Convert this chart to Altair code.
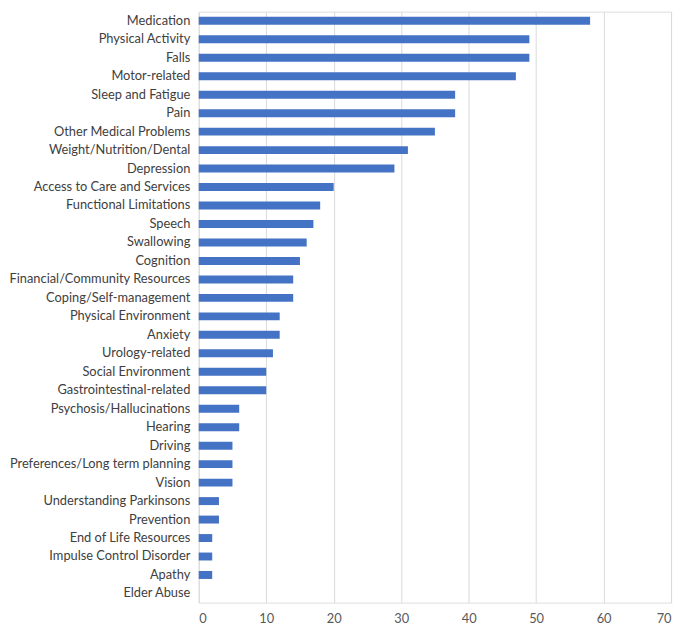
import altair as alt
import pandas as pd

categories = [
    "Medication", "Physical Activity", "Falls", "Motor-related", "Sleep and Fatigue",
    "Pain", "Other Medical Problems", "Weight/Nutrition/Dental", "Depression",
    "Access to Care and Services", "Functional Limitations", "Speech", "Swallowing",
    "Cognition", "Financial/Community Resources", "Coping/Self-management",
    "Physical Environment", "Anxiety", "Urology-related", "Social Environment",
    "Gastrointestinal-related", "Psychosis/Hallucinations", "Hearing", "Driving",
    "Preferences/Long term planning", "Vision", "Understanding Parkinsons",
    "Prevention", "End of Life Resources", "Impulse Control Disorder", "Apathy",
    "Elder Abuse",
]
values = [58, 49, 49, 47, 38, 38, 35, 31, 29, 20, 18, 17, 16, 15, 14, 14, 12, 12,
          11, 10, 10, 6, 6, 5, 5, 5, 3, 3, 2, 2, 2, 0]
x_ticks = [0, 10, 20, 30, 40, 50, 60, 70]

df = pd.DataFrame({"category": categories, "value": values})

chart = (
    alt.Chart(df)
    .mark_bar(color="#4472C4")
    .encode(
        x=alt.X(
            "value:Q",
            scale=alt.Scale(domain=[0, 70], nice=False),
            axis=alt.Axis(
                values=x_ticks, title=None, domain=False, ticks=False,
                grid=True, gridColor="#d9d9d9", gridWidth=1,
                labelFont="Lato", labelFontSize=13, labelColor="#595959",
                labelPadding=10,
            ),
        ),
        y=alt.Y(
            "category:N",
            sort=categories,
            scale=alt.Scale(paddingInner=0.57, paddingOuter=0.28),
            axis=alt.Axis(
                title=None, domain=False, ticks=False, grid=False,
                labelFont="Lato", labelFontSize=13, labelColor="#404040",
                labelPadding=9, labelLimit=300,
            ),
        ),
    )
    .properties(width=478, height=598, padding={"left": 0, "top": 0, "right": 6, "bottom": 0})
    .configure_view(stroke=None)
    .configure(background="white")
)

chart.save("out.html", embed_options={"renderer": "svg", "actions": False})
